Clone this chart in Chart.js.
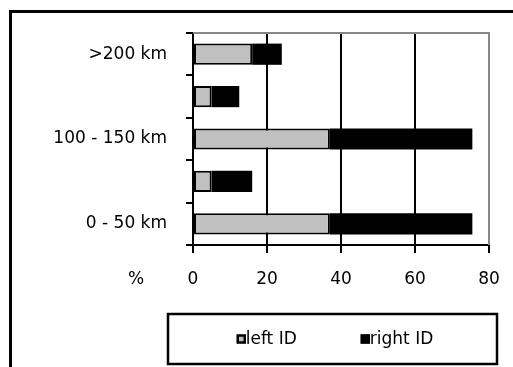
<!DOCTYPE html>
<html>
<head>
<meta charset="utf-8">
<script src="https://cdn.jsdelivr.net/npm/chart.js@4/dist/chart.umd.min.js"></script>
<style>
    html, body { margin: 0; padding: 0; background: #fff; }
    #wrap { width: 513px; height: 367px; position: relative; }
</style>
</head>
<body>
<div id="wrap"><canvas id="distChart"></canvas></div>
<script>
// Distance bands (bottom to top) and the share of each ID side, in %
const categories = ['0 - 50 km', '50 - 100 km', '100 - 150 km', '150 - 200 km', '>200 km'];
const leftID = [37, 5, 37, 5, 16];
const rightID = [38.5, 11, 38.5, 7.5, 8];
const xTicks = [0, 20, 40, 60, 80];
const seriesNames = ['left ID', 'right ID'];
const axisUnit = '%';

const FONT = { family: 'DejaVu Sans', size: 17 };
const GRAY = '#c0c0c0';
const BLACK = '#000';

// Outer frame, gray plot border, the "%" label and the boxed legend
const decorations = {
    id: 'decorations',
    beforeDraw(chart) {
        const ctx = chart.ctx;
        ctx.save();
        ctx.strokeStyle = '#000';
        ctx.lineWidth = 3;
        ctx.strokeRect(10.5, 11.5, chart.width + 20, chart.height + 20);
        ctx.restore();
    },
    afterDraw(chart) {
        const ctx = chart.ctx;
        const area = chart.chartArea;
        const x = chart.scales.x;
        ctx.save();

        // gray top and right edge of the plot
        ctx.strokeStyle = '#888';
        ctx.lineWidth = 2;
        ctx.beginPath();
        ctx.moveTo(area.left, area.top);
        ctx.lineTo(area.right, area.top);
        ctx.lineTo(area.right, area.bottom);
        ctx.stroke();

        // unit label on the tick row
        ctx.font = FONT.size + 'px ' + FONT.family;
        ctx.fillStyle = '#000';
        ctx.textAlign = 'center';
        ctx.textBaseline = 'middle';
        ctx.fillText(axisUnit, area.left - 57, x.top + 35);

        // legend frame
        const fTop = area.bottom + 69;
        ctx.strokeStyle = '#000';
        ctx.lineWidth = 2.5;
        ctx.strokeRect(area.left - 25, fTop, area.right - area.left + 33, 50);

        // legend items
        const box = 9, gap = 64;
        const widths = seriesNames.map(n => box + ctx.measureText(n).width);
        let lx = area.left + 142 - (widths[0] + widths[1] + gap) / 2;
        const ly = fTop + 25;
        chart.data.datasets.forEach((ds, i) => {
            ctx.fillStyle = ds.backgroundColor;
            ctx.fillRect(lx, ly - box / 2, box, box);
            ctx.strokeStyle = '#000';
            ctx.lineWidth = 2.5;
            ctx.strokeRect(lx + 1, ly - box / 2 + 1, box - 2, box - 2);
            ctx.fillStyle = '#000';
            ctx.textAlign = 'left';
            ctx.fillText(ds.label, lx + box, ly + 1);
            lx += widths[i] + gap;
        });
        ctx.restore();
    }
};

new Chart(document.getElementById('distChart'), {
    type: 'bar',
    data: {
        labels: categories,
        datasets: [
            {
                label: seriesNames[0],
                data: leftID,
                backgroundColor: GRAY,
                borderColor: '#000',
                borderWidth: 2,
                borderSkipped: false
            },
            {
                label: seriesNames[1],
                data: rightID,
                backgroundColor: BLACK,
                borderWidth: 0
            }
        ]
    },
    options: {
        indexAxis: 'y',
        responsive: true,
        maintainAspectRatio: false,
        animation: false,
        devicePixelRatio: 1,
        layout: { padding: { top: 33, right: 24, bottom: 72, left: 10 } },
        datasets: { bar: { categoryPercentage: 1, barPercentage: 0.5 } },
        plugins: {
            legend: { display: false },
            tooltip: { enabled: false }
        },
        scales: {
            x: {
                stacked: true,
                min: 0,
                max: 80,
                afterFit: scale => {
                    scale.height = 50;
                    scale.paddingLeft = 0;
                    scale.paddingRight = 0;
                },
                afterBuildTicks: scale => { scale.ticks = xTicks.map(v => ({ value: v })); },
                grid: {
                    color: ctx => (ctx.tick && ctx.tick.value === 80) ? 'rgba(0,0,0,0)' : '#000',
                    tickColor: '#000',
                    lineWidth: 2,
                    tickLength: 8
                },
                border: { color: '#000', width: 2 },
                ticks: { color: '#000', font: FONT, padding: 16, maxRotation: 0 }
            },
            y: {
                stacked: true,
                reverse: true,
                afterFit: scale => { scale.width = 183; },
                grid: {
                    offset: true,
                    drawOnChartArea: false,
                    color: '#000',
                    lineWidth: 2,
                    tickLength: 7
                },
                border: { color: '#000', width: 2 },
                ticks: {
                    color: '#000',
                    font: FONT,
                    padding: 19,
                    autoSkip: false,
                    callback: (v, i) => (i % 2 === 0 ? categories[i] : '')
                }
            }
        }
    },
    plugins: [decorations]
});
</script>
</body>
</html>
